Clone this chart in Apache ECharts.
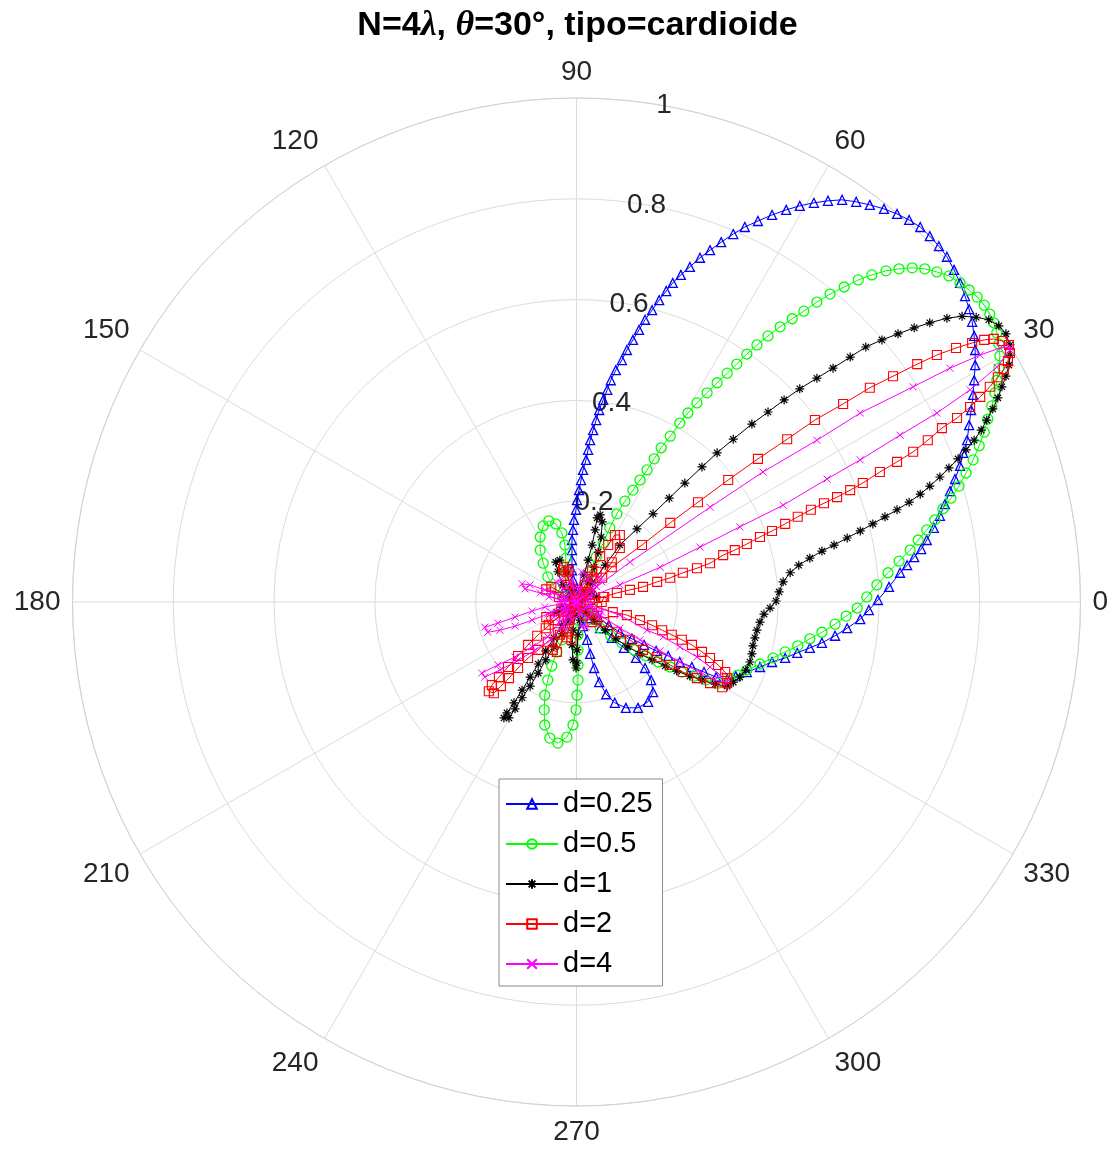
<!DOCTYPE html>
<html>
<head>
<meta charset="utf-8">
<script src="https://cdn.jsdelivr.net/npm/echarts@6/dist/echarts.min.js"></script>
<style>html,body{margin:0;padding:0;background:#fff;}#c{width:1109px;height:1153px;}</style>
</head>
<body>
<div id="c"></div>
<script>
// Values, as [x, y] in radius units (r·cosθ, r·sinθ)
const seriesNames = ['d=0.25', 'd=0.5', 'd=1', 'd=2', 'd=4'];
const angleTicks = [0, 30, 60, 90, 120, 150, 180, 210, 240, 270, 300, 330];
const radiusTicks = [0.2, 0.4, 0.6, 0.8, 1];

const blueXY = [[0.003,0.008],[-0.003,0.024],[-0.007,0.044],[-0.009,0.063],[-0.009,0.083],[-0.009,0.103],[-0.009,0.123],[-0.007,0.143],[-0.005,0.163],[-0.001,0.183],[0.001,0.202],[0.005,0.222],[0.009,0.242],[0.013,0.262],[0.019,0.282],[0.023,0.302],[0.027,0.321],[0.033,0.341],[0.039,0.361],[0.045,0.381],[0.053,0.401],[0.061,0.421],[0.068,0.440],[0.078,0.460],[0.090,0.480],[0.100,0.500],[0.112,0.520],[0.124,0.540],[0.136,0.560],[0.150,0.579],[0.164,0.599],[0.178,0.617],[0.191,0.633],[0.207,0.649],[0.225,0.665],[0.245,0.683],[0.265,0.698],[0.287,0.714],[0.311,0.730],[0.334,0.744],[0.360,0.756],[0.388,0.768],[0.416,0.778],[0.443,0.786],[0.471,0.792],[0.499,0.796],[0.527,0.798],[0.555,0.794],[0.582,0.788],[0.610,0.780],[0.636,0.770],[0.660,0.758],[0.682,0.744],[0.701,0.726],[0.719,0.706],[0.735,0.685],[0.749,0.659],[0.761,0.633],[0.771,0.607],[0.779,0.581],[0.785,0.556],[0.789,0.528],[0.791,0.500],[0.791,0.470],[0.789,0.440],[0.787,0.411],[0.783,0.381],[0.779,0.351],[0.775,0.321],[0.767,0.296],[0.761,0.270],[0.751,0.244],[0.741,0.220],[0.731,0.194],[0.721,0.171],[0.709,0.147],[0.695,0.123],[0.684,0.105],[0.670,0.089],[0.656,0.073],[0.642,0.058],[0.620,0.030],[0.598,0.004],[0.580,-0.016],[0.563,-0.034],[0.537,-0.052],[0.513,-0.067],[0.487,-0.081],[0.463,-0.091],[0.438,-0.101],[0.414,-0.111],[0.388,-0.119],[0.364,-0.129],[0.338,-0.139],[0.316,-0.147],[0.299,-0.153],[0.277,-0.149],[0.253,-0.139],[0.229,-0.129],[0.205,-0.119],[0.182,-0.107],[0.158,-0.097],[0.134,-0.085],[0.110,-0.073],[0.086,-0.060],[0.064,-0.046],[0.043,-0.030],[0.025,-0.016],[0.011,-0.006],[0.027,-0.032],[0.047,-0.052],[0.070,-0.071],[0.094,-0.091],[0.118,-0.111],[0.136,-0.131],[0.148,-0.155],[0.152,-0.179],[0.142,-0.198],[0.122,-0.210],[0.098,-0.210],[0.076,-0.200],[0.059,-0.183],[0.045,-0.159],[0.035,-0.131],[0.027,-0.103],[0.021,-0.075],[0.013,-0.048],[0.007,-0.020],[0.003,-0.002],[-0.015,0.010],[-0.025,0.020],[-0.010,0.030],[0.000,0.000]];

const greenXY = [[0.007,0.004],[0.017,0.032],[0.027,0.060],[0.039,0.089],[0.053,0.117],[0.066,0.147],[0.080,0.175],[0.096,0.200],[0.112,0.222],[0.126,0.242],[0.140,0.262],[0.154,0.284],[0.168,0.306],[0.186,0.329],[0.205,0.355],[0.221,0.375],[0.239,0.395],[0.259,0.415],[0.279,0.435],[0.299,0.454],[0.318,0.472],[0.338,0.492],[0.358,0.510],[0.380,0.528],[0.404,0.546],[0.428,0.562],[0.451,0.577],[0.477,0.595],[0.503,0.611],[0.531,0.625],[0.559,0.639],[0.586,0.649],[0.614,0.657],[0.640,0.661],[0.666,0.663],[0.691,0.661],[0.715,0.655],[0.739,0.647],[0.761,0.633],[0.779,0.619],[0.795,0.605],[0.809,0.589],[0.820,0.571],[0.828,0.554],[0.834,0.534],[0.838,0.512],[0.840,0.488],[0.838,0.464],[0.834,0.440],[0.830,0.415],[0.824,0.389],[0.816,0.363],[0.809,0.337],[0.799,0.310],[0.787,0.282],[0.773,0.256],[0.759,0.230],[0.743,0.206],[0.727,0.185],[0.711,0.163],[0.695,0.143],[0.678,0.123],[0.662,0.103],[0.640,0.081],[0.618,0.058],[0.596,0.034],[0.576,0.010],[0.557,-0.012],[0.535,-0.028],[0.513,-0.044],[0.487,-0.060],[0.463,-0.073],[0.439,-0.087],[0.414,-0.099],[0.390,-0.111],[0.364,-0.123],[0.338,-0.135],[0.320,-0.145],[0.305,-0.155],[0.281,-0.161],[0.257,-0.155],[0.233,-0.147],[0.209,-0.139],[0.186,-0.129],[0.162,-0.119],[0.138,-0.107],[0.114,-0.095],[0.090,-0.081],[0.068,-0.067],[0.047,-0.052],[0.027,-0.034],[0.013,-0.016],[0.003,-0.036],[0.003,-0.065],[0.003,-0.095],[0.003,-0.125],[0.003,-0.155],[0.001,-0.185],[-0.001,-0.214],[-0.007,-0.244],[-0.019,-0.268],[-0.037,-0.280],[-0.053,-0.270],[-0.063,-0.244],[-0.064,-0.214],[-0.063,-0.185],[-0.057,-0.155],[-0.049,-0.127],[-0.039,-0.099],[-0.029,-0.075],[-0.019,-0.052],[-0.011,-0.026],[-0.005,-0.006],[-0.011,0.014],[-0.019,0.034],[-0.023,0.060],[-0.021,0.087],[-0.023,0.113],[-0.029,0.137],[-0.041,0.155],[-0.055,0.161],[-0.066,0.151],[-0.072,0.129],[-0.072,0.103],[-0.066,0.077],[-0.057,0.050],[-0.043,0.028],[-0.027,0.012],[-0.013,0.002],[0.020,-0.015],[0.035,-0.030],[0.030,-0.010],[0.000,0.000]];

const blackXY = [[0.011,0.010],[0.031,0.038],[0.057,0.073],[0.086,0.113],[0.120,0.145],[0.152,0.175],[0.184,0.206],[0.215,0.236],[0.249,0.268],[0.279,0.296],[0.311,0.323],[0.348,0.353],[0.380,0.377],[0.412,0.401],[0.443,0.423],[0.477,0.444],[0.509,0.464],[0.543,0.486],[0.574,0.506],[0.606,0.520],[0.638,0.532],[0.670,0.544],[0.701,0.554],[0.735,0.563],[0.765,0.567],[0.793,0.565],[0.818,0.560],[0.838,0.548],[0.852,0.532],[0.860,0.510],[0.860,0.490],[0.858,0.470],[0.852,0.448],[0.844,0.427],[0.836,0.405],[0.826,0.383],[0.814,0.361],[0.803,0.341],[0.789,0.321],[0.773,0.302],[0.757,0.284],[0.739,0.266],[0.721,0.248],[0.701,0.230],[0.682,0.214],[0.660,0.198],[0.636,0.183],[0.612,0.169],[0.588,0.155],[0.563,0.141],[0.537,0.127],[0.511,0.113],[0.487,0.101],[0.463,0.087],[0.441,0.073],[0.424,0.058],[0.410,0.040],[0.402,0.020],[0.396,0.002],[0.384,-0.012],[0.372,-0.024],[0.364,-0.040],[0.358,-0.056],[0.354,-0.071],[0.350,-0.087],[0.348,-0.103],[0.344,-0.119],[0.336,-0.135],[0.324,-0.149],[0.311,-0.159],[0.299,-0.167],[0.275,-0.163],[0.249,-0.155],[0.225,-0.147],[0.199,-0.137],[0.176,-0.127],[0.150,-0.115],[0.126,-0.103],[0.102,-0.089],[0.078,-0.073],[0.057,-0.056],[0.035,-0.036],[0.019,-0.018],[0.007,-0.036],[0.003,-0.065],[0.001,-0.095],[0.001,-0.121],[-0.001,-0.131],[-0.007,-0.115],[-0.009,-0.085],[-0.007,-0.056],[-0.003,-0.026],[-0.013,-0.020],[-0.029,-0.046],[-0.045,-0.071],[-0.061,-0.097],[-0.076,-0.123],[-0.092,-0.149],[-0.108,-0.175],[-0.124,-0.200],[-0.138,-0.220],[-0.144,-0.230],[-0.134,-0.230],[-0.122,-0.212],[-0.108,-0.190],[-0.092,-0.167],[-0.076,-0.141],[-0.061,-0.115],[-0.045,-0.089],[-0.029,-0.063],[-0.015,-0.036],[-0.005,-0.012],[-0.013,0.008],[-0.027,0.034],[-0.037,0.060],[-0.041,0.079],[-0.033,0.083],[-0.021,0.060],[-0.009,0.024],[0.007,0.024],[0.015,0.054],[0.023,0.083],[0.031,0.113],[0.037,0.143],[0.041,0.167],[0.047,0.173],[0.051,0.159],[0.049,0.129],[0.043,0.099],[0.035,0.069],[0.025,0.040],[0.013,0.014],[0.003,0.000],[-0.030,-0.010],[-0.040,-0.020],[-0.020,-0.015],[0.030,0.020],[0.040,0.010],[0.000,0.000]];

const redXY = [[0.013,0.010],[0.070,0.069],[0.130,0.113],[0.186,0.157],[0.241,0.198],[0.301,0.242],[0.360,0.284],[0.418,0.323],[0.473,0.361],[0.529,0.393],[0.582,0.425],[0.628,0.448],[0.676,0.472],[0.715,0.490],[0.753,0.504],[0.785,0.514],[0.809,0.520],[0.828,0.522],[0.844,0.518],[0.858,0.510],[0.860,0.494],[0.856,0.478],[0.848,0.462],[0.836,0.446],[0.820,0.427],[0.801,0.407],[0.781,0.387],[0.755,0.365],[0.725,0.345],[0.697,0.321],[0.668,0.298],[0.636,0.278],[0.602,0.258],[0.568,0.236],[0.543,0.222],[0.517,0.208],[0.491,0.196],[0.465,0.183],[0.439,0.169],[0.414,0.155],[0.388,0.141],[0.364,0.129],[0.338,0.115],[0.314,0.103],[0.291,0.093],[0.265,0.077],[0.239,0.067],[0.211,0.058],[0.186,0.048],[0.160,0.040],[0.132,0.030],[0.106,0.024],[0.080,0.018],[0.053,0.010],[0.027,0.004],[0.041,-0.010],[0.072,-0.020],[0.100,-0.026],[0.126,-0.036],[0.150,-0.046],[0.170,-0.056],[0.189,-0.065],[0.209,-0.075],[0.229,-0.085],[0.249,-0.099],[0.265,-0.111],[0.281,-0.125],[0.295,-0.139],[0.299,-0.151],[0.299,-0.161],[0.289,-0.169],[0.265,-0.161],[0.239,-0.151],[0.211,-0.139],[0.186,-0.125],[0.160,-0.109],[0.132,-0.095],[0.106,-0.075],[0.080,-0.060],[0.055,-0.040],[0.031,-0.022],[0.003,-0.012],[-0.021,-0.020],[-0.043,-0.036],[-0.061,-0.052],[-0.078,-0.067],[-0.096,-0.085],[-0.116,-0.107],[-0.136,-0.129],[-0.154,-0.149],[-0.168,-0.165],[-0.174,-0.177],[-0.164,-0.181],[-0.150,-0.167],[-0.134,-0.151],[-0.116,-0.131],[-0.096,-0.111],[-0.076,-0.095],[-0.057,-0.079],[-0.037,-0.060],[-0.017,-0.036],[-0.003,-0.016],[0.017,0.034],[0.031,0.063],[0.047,0.091],[0.063,0.113],[0.076,0.133],[0.086,0.133],[0.086,0.107],[0.070,0.079],[0.051,0.048],[0.027,0.014],[-0.003,0.004],[-0.019,0.034],[-0.027,0.063],[-0.015,0.063],[-0.003,0.024],[-0.005,-0.006],[-0.033,-0.065],[-0.047,-0.095],[-0.039,-0.099],[-0.019,-0.060],[-0.001,-0.016],[0.007,-0.002],[0.030,0.050],[0.040,0.060],[0.000,0.000],[-0.020,0.060],[-0.025,0.070],[0.000,0.000],[-0.050,0.030],[-0.060,0.025],[0.000,0.000],[-0.060,-0.030],[-0.055,-0.045],[0.000,0.000],[-0.020,-0.070],[-0.010,-0.075],[0.000,0.000],[0.030,-0.040],[0.040,-0.035],[0.000,0.000],[0.050,0.000],[0.055,0.010],[0.000,0.000],[-0.035,0.010],[-0.030,-0.015],[0.020,0.020],[0.015,-0.025],[0.000,0.000]];

const magentaXY = [[0.013,0.010],[0.106,0.079],[0.265,0.188],[0.370,0.258],[0.477,0.321],[0.563,0.375],[0.668,0.427],[0.741,0.464],[0.801,0.490],[0.840,0.504],[0.860,0.506],[0.860,0.500],[0.834,0.466],[0.781,0.421],[0.715,0.375],[0.642,0.331],[0.563,0.282],[0.497,0.244],[0.410,0.192],[0.324,0.149],[0.245,0.109],[0.166,0.069],[0.086,0.034],[0.027,0.010],[0.027,-0.006],[0.086,-0.026],[0.140,-0.056],[0.172,-0.069],[0.205,-0.089],[0.239,-0.109],[0.265,-0.129],[0.285,-0.145],[0.299,-0.159],[0.275,-0.155],[0.245,-0.139],[0.205,-0.119],[0.166,-0.097],[0.126,-0.075],[0.086,-0.052],[0.047,-0.026],[-0.023,-0.002],[-0.063,-0.010],[-0.088,-0.018],[-0.122,-0.030],[-0.156,-0.042],[-0.182,-0.050],[-0.176,-0.060],[-0.152,-0.056],[-0.122,-0.048],[-0.088,-0.036],[-0.057,-0.024],[-0.023,-0.010],[-0.017,-0.020],[-0.057,-0.069],[-0.088,-0.089],[-0.122,-0.109],[-0.156,-0.125],[-0.188,-0.141],[-0.182,-0.149],[-0.152,-0.135],[-0.118,-0.117],[-0.084,-0.097],[-0.051,-0.075],[-0.021,-0.040],[-0.023,0.008],[-0.063,0.024],[-0.092,0.034],[-0.108,0.036],[-0.102,0.026],[-0.072,0.018],[-0.033,0.004],[0.003,0.000],[0.027,0.020],[0.037,0.034],[0.023,0.044],[0.003,0.024],[-0.013,0.034],[-0.029,0.024],[-0.023,0.008],[-0.033,-0.006],[-0.021,-0.020],[-0.009,-0.036],[0.007,-0.024],[0.023,-0.032],[0.035,-0.016],[0.017,-0.002],[0.040,0.030],[0.050,0.040],[0.045,0.050],[0.000,0.000],[0.020,0.055],[0.010,0.060],[0.000,0.000],[-0.030,0.045],[-0.040,0.040],[0.000,0.000],[-0.050,0.020],[-0.055,0.010],[0.000,0.000],[-0.050,-0.020],[-0.045,-0.030],[0.000,0.000],[-0.030,-0.050],[-0.020,-0.055],[0.000,0.000],[0.010,-0.050],[0.020,-0.050],[0.000,0.000],[0.045,-0.030],[0.050,-0.020],[0.000,0.000],[-0.015,0.015],[-0.035,-0.040],[0.030,-0.005],[-0.010,0.045],[0.000,0.000]];

const seriesData = [blueXY, greenXY, blackXY, redXY, magentaXY];
const seriesColors = ['#0000ff', '#00ff00', '#000000', '#ff0000', '#ff00ff'];
const seriesSymbols = [
  'triangle',
  'circle',
  'path://M5 0L5 10M0 5L10 5M1.5 1.5L8.5 8.5M1.5 8.5L8.5 1.5',
  'rect',
  'path://M0 0L10 10M0 10L10 0'
];
const seriesSymbolSizes = [9, 10, 9, 9, 7];
const seriesBorderWidths = [1.3, 1.3, 1.2, 1.1, 1];

const CX = 576.5, CY = 602, R = 504;
const FONT = 'Liberation Sans, Arial, Helvetica, sans-serif';
const gridColor = '#dcdcdc';

const chart = echarts.init(document.getElementById('c'), null, {renderer: 'canvas'});

const series = seriesNames.map((name, i) => ({
  name: name,
  type: 'line',
  xAxisIndex: 0,
  yAxisIndex: 0,
  data: seriesData[i],
  symbol: seriesSymbols[i],
  symbolSize: seriesSymbolSizes[i],
  showSymbol: true,
  showAllSymbol: true,
  smooth: false,
  silent: true,
  z: 3 + i,
  lineStyle: {color: seriesColors[i], width: 1},
  itemStyle: {color: 'rgba(0,0,0,0)', borderColor: seriesColors[i], borderWidth: seriesBorderWidths[i]},
  emphasis: {disabled: true}
}));

chart.setOption({
  animation: false,
  backgroundColor: '#ffffff',
  title: {
    text: '{b|N=4}{l|λ}{b|, }{l|θ}{b|=30°, tipo=cardioide}',
    left: CX - 4,
    textAlign: 'center',
    top: 3,
    textStyle: {
      rich: {
        b: {fontFamily: FONT, fontWeight: 'bold', fontSize: 34, color: '#000'},
        l: {fontFamily: 'Liberation Serif, DejaVu Serif, serif', fontStyle: 'italic', fontSize: 36, color: '#000'}
      }
    }
  },
  legend: {
    orient: 'vertical',
    left: 499,
    top: 779,
    data: seriesNames,
    itemWidth: 52,
    itemHeight: 12,
    itemGap: 10,
    padding: [10, 10, 7, 6],
    backgroundColor: '#ffffff',
    borderColor: '#8a8a8a',
    borderWidth: 1,
    borderRadius: 0,
    selectedMode: false,
    textStyle: {fontFamily: FONT, fontSize: 29, color: '#000', lineHeight: 30}
  },
  polar: [
    {center: [CX, CY], radius: R},
    {center: [CX, CY], radius: R}
  ],
  angleAxis: [
    {
      polarIndex: 0, type: 'value', min: 0, max: 360, interval: 30,
      startAngle: 0, clockwise: false,
      axisLine: {show: true, lineStyle: {color: '#d2d2d2', width: 1}},
      axisTick: {show: false},
      axisLabel: {
        show: true, margin: 12, fontFamily: FONT, fontSize: 28, color: '#262626',
        formatter: v => (angleTicks.indexOf(v) >= 0 ? String(v) : '')
      },
      splitLine: {show: true, lineStyle: {color: gridColor, width: 1}}
    },
    {
      polarIndex: 1, type: 'value', min: 0, max: 360, startAngle: 80, clockwise: false,
      show: false
    }
  ],
  radiusAxis: [
    {
      polarIndex: 0, type: 'value', min: 0, max: 1, interval: 0.2,
      axisLine: {show: false}, axisTick: {show: false}, axisLabel: {show: false},
      splitLine: {show: true, lineStyle: {color: gridColor, width: 1}}
    },
    {
      polarIndex: 1, type: 'value', min: 0, max: 1, interval: 0.2,
      axisLine: {show: false}, axisTick: {show: false}, splitLine: {show: false},
      axisLabel: {
        show: true, margin: 0, align: 'center', verticalAlign: 'middle',
        fontFamily: FONT, fontSize: 28, color: '#262626',
        formatter: v => {
          const r = Math.round(v * 10) / 10;
          return radiusTicks.indexOf(r) >= 0 ? String(r) : '';
        }
      }
    }
  ],
  grid: {left: CX - R, top: CY - R, width: 2 * R, height: 2 * R, show: false},
  xAxis: {type: 'value', min: -1, max: 1, show: false},
  yAxis: {type: 'value', min: -1, max: 1, show: false},
  series: series
});
</script>
</body>
</html>
